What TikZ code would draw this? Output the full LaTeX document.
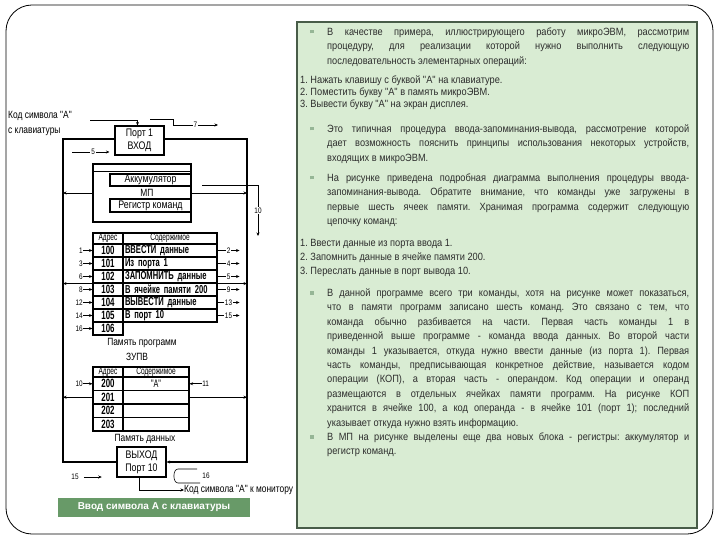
\documentclass[tikz,border=0pt]{standalone}
\usepackage{fontspec}
\setmainfont{Liberation Sans}
\newfontfamily\slidefont{Liberation Sans}[FakeStretch=0.88]
\newfontfamily\diagfont{Liberation Sans}[FakeStretch=0.8]
\newfontfamily\cellfont{Liberation Sans}[FakeStretch=0.66]
\usetikzlibrary{arrows.meta,backgrounds}

\definecolor{boxgreen}{RGB}{217,236,211}
\definecolor{boxedge}{RGB}{72,92,72}
\definecolor{bandgreen}{RGB}{104,154,104}
\definecolor{dotgreen}{RGB}{150,182,150}
\definecolor{txtgray}{RGB}{45,45,45}

\newcommand\jl[1]{\makebox[362pt][s]{#1}\\}
\newcommand\bul{\makebox[22pt][l]{\hspace{5pt}\textcolor{dotgreen}{\rule[2pt]{3.5pt}{3.5pt}}}}

\tikzset{
  box/.style={draw, line width=1.1pt, fill=white, inner sep=0pt, align=center, font=\diagfont\fontsize{11}{13}\selectfont},
  adr/.style={box, minimum width=30pt, font=\cellfont\bfseries\fontsize{12}{12}\selectfont},
  txt/.style={box, text width=#1, inner xsep=2pt, align=left, font=\cellfont\bfseries\fontsize{11.5}{11.5}\selectfont},
  hdr/.style={box, font=\cellfont\fontsize{10}{10}\selectfont},
  lbl/.style={inner sep=0pt, font=\diagfont\fontsize{10.5}{12}\selectfont},
  num/.style={fill=white, inner sep=1pt, font=\diagfont\fontsize{8}{8}\selectfont},
  wire/.style={line width=0.6pt},
  link/.style={line width=0.9pt, ->},
  bus/.style={line width=1.1pt},
  para/.style={anchor=base west, inner sep=0pt, text=txtgray, font=\slidefont\fontsize{10.5}{14.4}\selectfont\frenchspacing},
  listtext/.style={para, font=\slidefont\fontsize{10.5}{#1}\selectfont\frenchspacing},
  band/.style={fill=bandgreen, text=white, minimum width=192pt, minimum height=19pt, inner sep=0pt, font=\fontsize{10}{10}\selectfont\bfseries}
}

\begin{document}
\begin{tikzpicture}[x=1pt, y=-1pt, >={Stealth[length=3.5pt,width=3pt]}]
\useasboundingbox (0,0) rectangle (720,540);
\draw[line width=0.8pt, rounded corners=26pt] (6,5) rectangle (713,534);
\draw[boxedge, fill=boxgreen, line width=1.2pt] (297,22) rectangle (697,528);

\node[para] (p1) at (305,35.5) {\bul\parbox[t]{362pt}{%
\jl{В качестве примера, иллюстрирующего работу микроЭВМ, рассмотрим}
\jl{процедуру, для реализации которой нужно выполнить следующую}
последовательность элементарных операций:}};
\node[listtext=11.8] (l1) at (300,83.5) {\parbox[t]{390pt}{%
1. Нажать клавишу с буквой "А" на клавиатуре.\\
2. Поместить букву "А" в память микроЭВМ.\\
3. Вывести букву "А" на экран дисплея.}};
\node[para] (p2) at (305,132.5) {\bul\parbox[t]{362pt}{%
\jl{Это типичная процедура ввода-запоминания-вывода, рассмотрение которой}
\jl{дает возможность пояснить принципы использования некоторых устройств,}
входящих в микроЭВМ.}};
\node[para] (p3) at (305,181.5) {\bul\parbox[t]{362pt}{%
\jl{На рисунке приведена подробная диаграмма выполнения процедуры ввода-}
\jl{запоминания-вывода. Обратите внимание, что команды уже загружены в}
\jl{первые шесть ячеек памяти. Хранимая программа содержит следующую}
цепочку команд:}};
\node[listtext=13.8] (l2) at (300,246.5) {\parbox[t]{390pt}{%
1. Ввести данные из порта ввода 1.\\
2. Запомнить данные в ячейке памяти 200.\\
3. Переслать данные в порт вывода 10.}};
\node[para] (p4) at (305,296.5) {\bul\parbox[t]{362pt}{%
\jl{В данной программе всего три команды, хотя на рисунке может показаться,}
\jl{что в памяти программ записано шесть команд. Это связано с тем, что}
\jl{команда обычно разбивается на части. Первая часть команды 1 в}
\jl{приведенной выше программе - команда ввода данных. Во второй части}
\jl{команды 1 указывается, откуда нужно ввести данные (из порта 1). Первая}
\jl{часть команды, предписывающая конкретное действие, называется кодом}
\jl{операции (КОП), а вторая часть - операндом. Код операции и операнд}
\jl{размещаются в отдельных ячейках памяти программ. На рисунке КОП}
\jl{хранится в ячейке 100, а код операнда - в ячейке 101 (порт 1); последний}
указывает откуда нужно взять информацию.}};
\node[para] (p5) at (305,440.5) {\bul\parbox[t]{362pt}{%
\jl{В МП на рисунке выделены еще два новых блока - регистры: аккумулятор и}
регистр команд.}};

\node[lbl, anchor=west] (kodA) at (8,116) {Код символа "А"};
\node[lbl, anchor=west] (klav) at (8,132) {с клавиатуры};
\node[box, minimum width=49pt, minimum height=29pt] (port1) at (139.5,140.5) {Порт 1\\ВХОД};
\node[box, minimum width=98pt, minimum height=58pt] (mp) at (142,193) {};
\draw[line width=1.1pt] ([yshift=-8pt]mp.north west) -- ([yshift=-8pt]mp.north east);
\node[box, minimum width=81pt, minimum height=12pt] (acc) at (150.5,180) {Аккумулятор};
\node[box, minimum width=81pt, minimum height=13pt] (reg) at (150.5,205.5) {Регистр команд};
\node[lbl] (mptxt) at (147,193) {МП};

\node[hdr, minimum width=30pt, minimum height=11pt] (pa) at (108,238.5) {Адрес};
\node[hdr, minimum width=94pt, minimum height=11pt] (pc) at (170,238.5) {Содержимое};
\foreach \ad/\tx [count=\i from 0] in {100/ВВЕСТИ данные, 101/Из порта 1, 102/ЗАПОМНИТЬ данные,
    103/В ячейке памяти 200, 104/ВЫВЕСТИ данные, 105/В порт 10}{
  \node[adr, minimum height=13pt] (a\ad) at (108,250.5+13*\i) {\ad};
  \node[txt=90pt, minimum height=13pt] (c\ad) at (170,250.5+13*\i) {\tx};
}
\node[adr, minimum height=13pt] (a106) at (108,328.5) {106};
\foreach \ad/\n in {100/1,101/3,102/6,103/8,104/12,105/14,106/16}
  \draw[wire,<-] (a\ad.west) -- ++(-9,0) node[num,left,inner sep=0.5pt]{\n};
\foreach \ad/\n in {100/2,101/4,102/5,103/9,104/13,105/15}
  \draw[wire,->] (c\ad.east) -- node[num]{\n} ++(22,0);
\node[lbl] (pprog) at (142,343) {Память программ};
\node[lbl] (zupv) at (137,357) {ЗУПВ};

\node[hdr, minimum width=30pt, minimum height=10pt] (da) at (108,372) {Адрес};
\node[hdr, minimum width=66pt, minimum height=10pt] (dc) at (156,372) {Содержимое};
\foreach \ad/\tx [count=\i from 0] in {200/{"А"},201/{},202/{},203/{}}{
  \node[adr, minimum height=13.5pt] (d\ad) at (108,383.75+13.5*\i) {\ad};
  \node[box, minimum width=66pt, minimum height=13.5pt, font=\cellfont\fontsize{11}{11}\selectfont] (e\ad) at (156,383.75+13.5*\i) {\tx};
}
\draw[wire,<-] (d200.west) -- ++(-9,0) node[num,left,inner sep=0.5pt]{10};
\draw[wire,<-] (e200.east) -- ++(12,0) node[num,right,inner sep=0.5pt]{11};
\node[lbl] (pdata) at (145,439) {Память данных};

\node[box, minimum width=49pt, minimum height=30pt] (vyhod) at (141.5,462) {ВЫХОД\\Порт 10};
\node[lbl, anchor=west] (montxt) at (184,490) {Код символа "А" к монитору};
\node[band] (capt) at (154,507.5) {Ввод символа А с клавиатуры};

\coordinate (busL) at (63,139);
\coordinate (busR) at (247,139);
\begin{scope}[on background layer]
\draw[bus,->] (vyhod.west) -| (busL) -- (busR) |- (vyhod.east);
\end{scope}
\draw[link] (mp.west) -- (mp.west -| busL);
\draw[link] (mp.east) -- (mp.east -| busR);
\draw[link] (a102.south west) -- (a102.south west -| busL);
\draw[link] (c102.south east) -- (c102.south east -| busR);
\draw[link] (d201.west) -- (d201.west -| busL);
\draw[link] (e201.east) -- (e201.east -| busR);

\coordinate (kin) at (90,120);
\draw[wire,->] (kin) -| ([xshift=-2pt]port1.north);
\coordinate (s7) at (150,119);
\coordinate (e7) at (218,125);
\draw[wire,->] (s7) -- ++(23,0) |- node[num,pos=0.75]{7} (e7);
\coordinate (s5) at (72,152);
\draw[wire,->,shorten >=5pt] (s5) -- node[num]{5} (s5 -| port1.west);
\coordinate (s10) at (202,185);
\coordinate (e10) at (258,236);
\draw[wire,->] (s10) -| node[num,pos=0.75]{10} (e10);
\draw[wire,->] ([xshift=-2.5pt]vyhod.south) |- (montxt.west);
\node[num] (n16) at (206,476) {16};
\draw[wire] (197,469) -- (178,469) to[out=180,in=180] (178,483) -- (200,483);
\node[num] (n15) at (75,477) {15};
\draw[wire,->] ([xshift=4pt]n15.east) -- ++(18,0);
\end{tikzpicture}
\end{document}
